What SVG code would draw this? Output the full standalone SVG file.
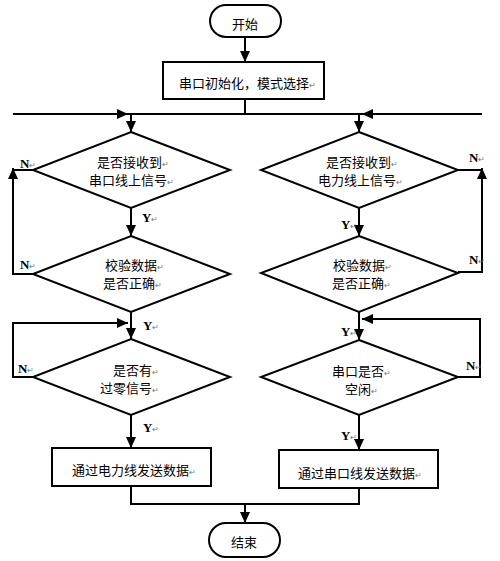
<svg xmlns="http://www.w3.org/2000/svg" width="500" height="561" viewBox="0 0 500 561">
<defs>
<marker id="ah" markerUnits="userSpaceOnUse" markerWidth="11" markerHeight="10" refX="11" refY="5" orient="auto">
<path d="M0,0 L11,5 L0,10 z" fill="#000"/>
</marker>
<style>
.s{fill:#fff;stroke:#000;stroke-width:2}
.c{fill:none;stroke:#000;stroke-width:2}
.t{font-family:"Noto Sans CJK SC","Noto Sans CJK JP",sans-serif;font-size:13px;fill:#000}
.l{font-family:"Liberation Serif",serif;font-size:13px;font-weight:bold;fill:#000}
.r{font-size:8px;fill:#777;font-weight:normal}
</style>
</defs>
<rect width="500" height="561" fill="#fff"/>
<g id="connectors">
<path class="c" d="M245,37 V62" marker-end="url(#ah)"/>
<path class="c" d="M245,99 V114"/>
<path class="c" d="M13,114 H482"/>
<path class="c" d="M33,274 H13 V168" marker-end="url(#ah)"/>
<path class="c" d="M33,170 H13"/>
<path class="c" d="M13,114 H128" marker-end="url(#ah)"/>
<path class="c" d="M131,114 V132" marker-end="url(#ah)"/>
<path class="c" d="M458,170 H482"/>
<path class="c" d="M458,272 H482 V168" marker-end="url(#ah)"/>
<path class="c" d="M482,114 H362" marker-end="url(#ah)"/>
<path class="c" d="M359,114 V132" marker-end="url(#ah)"/>
<path class="c" d="M131,208 V236" marker-end="url(#ah)"/>
<path class="c" d="M359,208 V236" marker-end="url(#ah)"/>
<path class="c" d="M131,312 V339" marker-end="url(#ah)"/>
<path class="c" d="M33,377 H13 V323 H128" marker-end="url(#ah)"/>
<path class="c" d="M131,323 V324"/>
<path class="c" d="M359,312 V340" marker-end="url(#ah)"/>
<path class="c" d="M458,377 H480 V319 H362" marker-end="url(#ah)"/>
<path class="c" d="M131,415 V448" marker-end="url(#ah)"/>
<path class="c" d="M359,415 V450" marker-end="url(#ah)"/>
<path class="c" d="M131,486 V504 H359 V488"/>
<path class="c" d="M245,504 V523" marker-end="url(#ah)"/>
<text class="l" x="20" y="168">N<tspan class="r">↵</tspan></text>
<text class="l" x="20" y="269">N<tspan class="r">↵</tspan></text>
<text class="l" x="142" y="222">Y<tspan class="r">↵</tspan></text>
<text class="l" x="143" y="330">Y<tspan class="r">↵</tspan></text>
<text class="l" x="18" y="373">N<tspan class="r">↵</tspan></text>
<text class="l" x="143" y="432">Y<tspan class="r">↵</tspan></text>
<text class="l" x="469" y="162">N<tspan class="r">↵</tspan></text>
<text class="l" x="469" y="264">N<tspan class="r">↵</tspan></text>
<text class="l" x="341" y="229">Y<tspan class="r">↵</tspan></text>
<text class="l" x="341" y="336">Y<tspan class="r">↵</tspan></text>
<text class="l" x="466" y="370">N<tspan class="r">↵</tspan></text>
<text class="l" x="341" y="440">Y<tspan class="r">↵</tspan></text>
</g>
<g id="start">
<rect class="s" x="210" y="5" width="71" height="32" rx="16"/>
<text class="t" x="232" y="29">开始</text>
</g>
<g id="init">
<rect class="s" x="163" y="62" width="161" height="37"/>
<text class="t" x="179" y="88">串口初始化，模式选择<tspan class="r">↵</tspan></text>
</g>
<g id="d1">
<polygon class="s" points="131,132 230,170 131,208 33,170"/>
<text class="t" x="97" y="167">是否接收到<tspan class="r">↵</tspan></text>
<text class="t" x="89" y="185">串口线上信号<tspan class="r">↵</tspan></text>
</g>
<g id="d2">
<polygon class="s" points="131,236 230,274 131,312 33,274"/>
<text class="t" x="105" y="270">校验数据<tspan class="r">↵</tspan></text>
<text class="t" x="103" y="288">是否正确<tspan class="r">↵</tspan></text>
</g>
<g id="d3">
<polygon class="s" points="131,339 230,377 131,415 33,377"/>
<text class="t" x="113" y="375">是否有<tspan class="r">↵</tspan></text>
<text class="t" x="100" y="393">过零信号<tspan class="r">↵</tspan></text>
</g>
<g id="boxL">
<rect class="s" x="52" y="448" width="159" height="38"/>
<text class="t" x="72" y="475">通过电力线发送数据<tspan class="r">↵</tspan></text>
</g>
<g id="d4">
<polygon class="s" points="359,132 458,170 359,208 261,170"/>
<text class="t" x="326" y="167">是否接收到<tspan class="r">↵</tspan></text>
<text class="t" x="318" y="185">电力线上信号<tspan class="r">↵</tspan></text>
</g>
<g id="d5">
<polygon class="s" points="359,236 458,273 359,312 261,273"/>
<text class="t" x="333" y="270">校验数据<tspan class="r">↵</tspan></text>
<text class="t" x="332" y="288">是否正确<tspan class="r">↵</tspan></text>
</g>
<g id="d6">
<polygon class="s" points="359,340 458,377 359,415 261,377"/>
<text class="t" x="332" y="376">串口是否<tspan class="r">↵</tspan></text>
<text class="t" x="345" y="394">空闲<tspan class="r">↵</tspan></text>
</g>
<g id="boxR">
<rect class="s" x="279" y="450" width="159" height="38"/>
<text class="t" x="298" y="478">通过串口线发送数据<tspan class="r">↵</tspan></text>
</g>
<g id="end">
<rect class="s" x="209" y="523" width="71" height="34" rx="17"/>
<text class="t" x="231" y="547">结束</text>
</g>
</svg>
